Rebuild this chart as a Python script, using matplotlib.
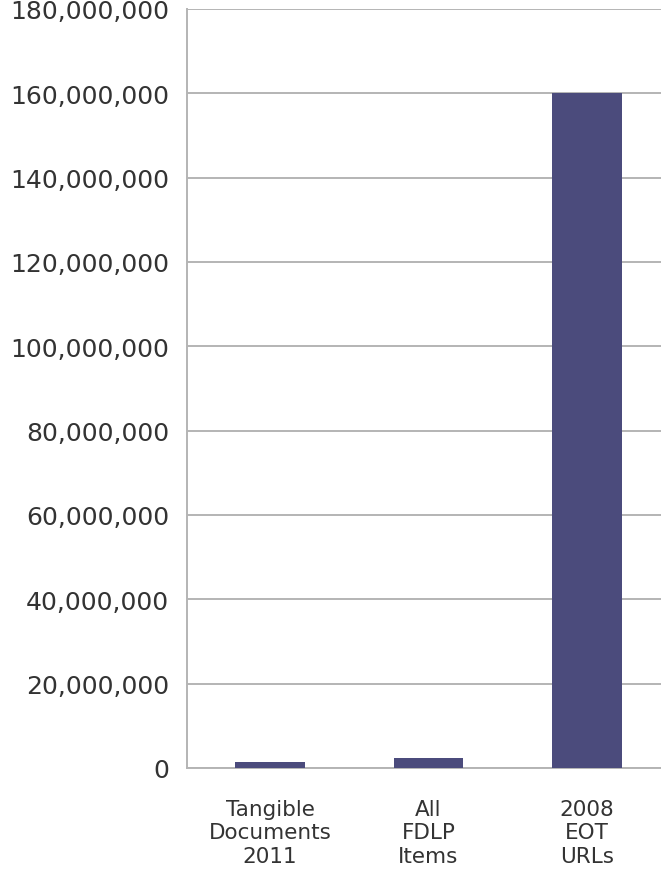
import matplotlib.pyplot as plt
from matplotlib.ticker import FuncFormatter

categories = ['Tangible\nDocuments\n2011', 'All\nFDLP\nItems', '2008\nEOT\nURLs']
values = [1500000, 2300000, 160000000]
y_ticks = list(range(0, 180000001, 20000000))

bar_color = '#4b4b7c'
grid_color = '#b4b4b4'

fig = plt.figure(figsize=(6.61, 8.70), dpi=100)
ax = fig.add_axes([187 / 661, 1 - 769 / 870, 474 / 661, (769 - 10) / 870])

ax.bar(range(len(categories)), values, width=0.44, color=bar_color, zorder=3)

ax.set_xlim(-0.524, 2.467)
ax.set_ylim(0, 180000000)
ax.set_yticks(y_ticks)
ax.yaxis.set_major_formatter(FuncFormatter(lambda v, p: f'{int(v):,}'))
ax.set_xticks(range(len(categories)))
ax.set_xticklabels(categories, linespacing=1.22)

ax.grid(axis='y', color=grid_color, linewidth=1.4, zorder=0)
for s in ['top', 'right']:
    ax.spines[s].set_visible(False)
for s in ['left', 'bottom']:
    ax.spines[s].set_color(grid_color)
    ax.spines[s].set_linewidth(1.4)

ax.tick_params(axis='y', length=0, pad=13, labelsize=18, labelcolor='#333333')
ax.tick_params(axis='x', length=0, pad=22, labelsize=15.5, labelcolor='#333333')

fig.savefig('out.png', dpi=100)
